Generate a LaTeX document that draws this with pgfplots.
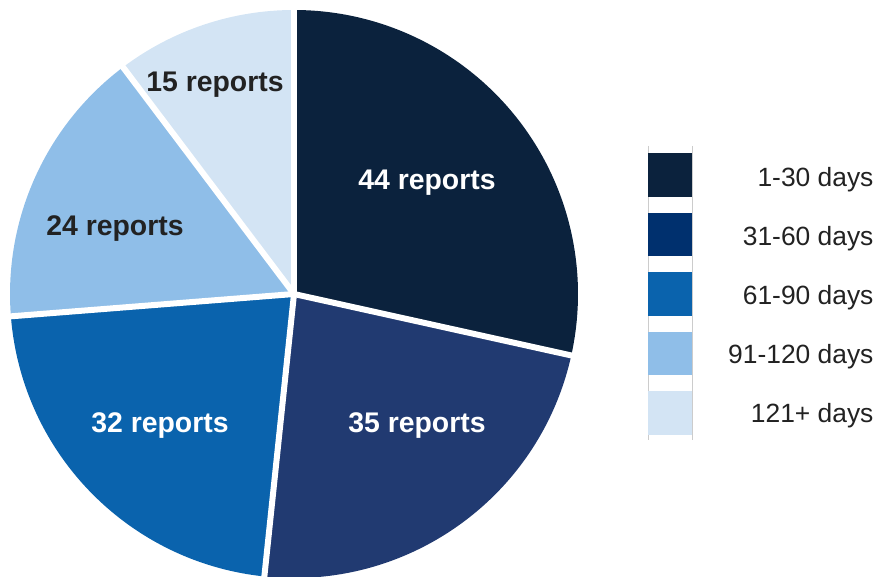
\documentclass[border=0pt]{standalone}
\usepackage{pgfplots}
\usepackage{pgfplotstable}
\pgfplotsset{compat=1.18}
\usepackage{fontspec}
\setmainfont{Liberation Sans}
\definecolor{cA}{HTML}{0B223D}
\definecolor{cB}{HTML}{213A71}
\definecolor{cC}{HTML}{0A63AD}
\definecolor{cD}{HTML}{8FBEE8}
\definecolor{cE}{HTML}{D3E4F4}
\definecolor{lB}{HTML}{00306E}
\definecolor{txt}{HTML}{222222}

% reports per bucket and the slice sizes (degrees)
\pgfplotstableread{
reports sweep
44 102.5
35 83.5
32 79.5
24 57.5
15 37.0
}\piedata
\pgfplotstablegetelem{0}{sweep}\of\piedata \let\vA\pgfplotsretval
\pgfplotstablegetelem{1}{sweep}\of\piedata \let\vB\pgfplotsretval
\pgfplotstablegetelem{2}{sweep}\of\piedata \let\vC\pgfplotsretval
\pgfplotstablegetelem{3}{sweep}\of\piedata \let\vD\pgfplotsretval
\pgfplotstablegetelem{4}{sweep}\of\piedata \let\vE\pgfplotsretval
\pgfmathsetmacro\tot{\vA+\vB+\vC+\vD+\vE}
\pgfmathsetmacro\aA{90-\vA/\tot*360}
\pgfmathsetmacro\aB{\aA-\vB/\tot*360}
\pgfmathsetmacro\aC{\aB-\vC/\tot*360}
\pgfmathsetmacro\aD{\aC-\vD/\tot*360}
\pgfmathsetmacro\aE{\aD-\vE/\tot*360}
\newcommand\R{284bp}

\begin{document}
\begin{tikzpicture}
\begin{axis}[
  x=1bp, y=1bp, scale only axis,
  xmin=0, xmax=876, ymin=0, ymax=577, y dir=reverse,
  hide axis, clip=true,
]
\path (axis cs:0,0) rectangle (axis cs:876,577);
\fill[cA] (axis cs:294,294) -- ++(90:\R) arc[start angle=90, end angle=\aA, radius=\R] -- cycle;
\fill[cB] (axis cs:294,294) -- ++(\aA:\R) arc[start angle=\aA, end angle=\aB, radius=\R] -- cycle;
\fill[cC] (axis cs:294,294) -- ++(\aB:\R) arc[start angle=\aB, end angle=\aC, radius=\R] -- cycle;
\fill[cD] (axis cs:294,294) -- ++(\aC:\R) arc[start angle=\aC, end angle=\aD, radius=\R] -- cycle;
\fill[cE] (axis cs:294,294) -- ++(\aD:\R) arc[start angle=\aD, end angle=\aE, radius=\R] -- cycle;
\draw[white, line width=6bp] (axis cs:294,294) -- ++(90:290bp);
\draw[white, line width=6bp] (axis cs:294,294) -- ++(\aA:290bp);
\draw[white, line width=6bp] (axis cs:294,294) -- ++(\aB:290bp);
\draw[white, line width=6bp] (axis cs:294,294) -- ++(\aC:290bp);
\draw[white, line width=6bp] (axis cs:294,294) -- ++(\aD:290bp);
\node[white, font=\fontsize{28.5}{32}\selectfont\bfseries] at (axis cs:427,183) {44 reports};
\node[white, font=\fontsize{28.5}{32}\selectfont\bfseries] at (axis cs:417,426) {35 reports};
\node[white, font=\fontsize{28.5}{32}\selectfont\bfseries] at (axis cs:160,426) {32 reports};
\node[text=txt, font=\fontsize{28.5}{32}\selectfont\bfseries] at (axis cs:115,229) {24 reports};
\node[text=txt, font=\fontsize{28.5}{32}\selectfont\bfseries] at (axis cs:215,85) {15 reports};
% legend
\draw[black!20, line width=0.8bp] (axis cs:648,146) -- (axis cs:648,440);
\draw[black!20, line width=0.8bp] (axis cs:692,146) -- (axis cs:692,440);
\fill[cA] (axis cs:648,153) rectangle (axis cs:692,197);
\fill[lB] (axis cs:648,213) rectangle (axis cs:692,256);
\fill[cC] (axis cs:648,272) rectangle (axis cs:692,316);
\fill[cD] (axis cs:648,332) rectangle (axis cs:692,375);
\fill[cE] (axis cs:648,391) rectangle (axis cs:692,435);
\node[anchor=east, text=txt, font=\fontsize{26.5}{30}\selectfont] at (axis cs:877,180) {1-30 days};
\node[anchor=east, text=txt, font=\fontsize{26.5}{30}\selectfont] at (axis cs:877,239) {31-60 days};
\node[anchor=east, text=txt, font=\fontsize{26.5}{30}\selectfont] at (axis cs:877,298) {61-90 days};
\node[anchor=east, text=txt, font=\fontsize{26.5}{30}\selectfont] at (axis cs:877,357) {91-120 days};
\node[anchor=east, text=txt, font=\fontsize{26.5}{30}\selectfont] at (axis cs:877,416) {121+ days};
\end{axis}
\end{tikzpicture}
\end{document}
